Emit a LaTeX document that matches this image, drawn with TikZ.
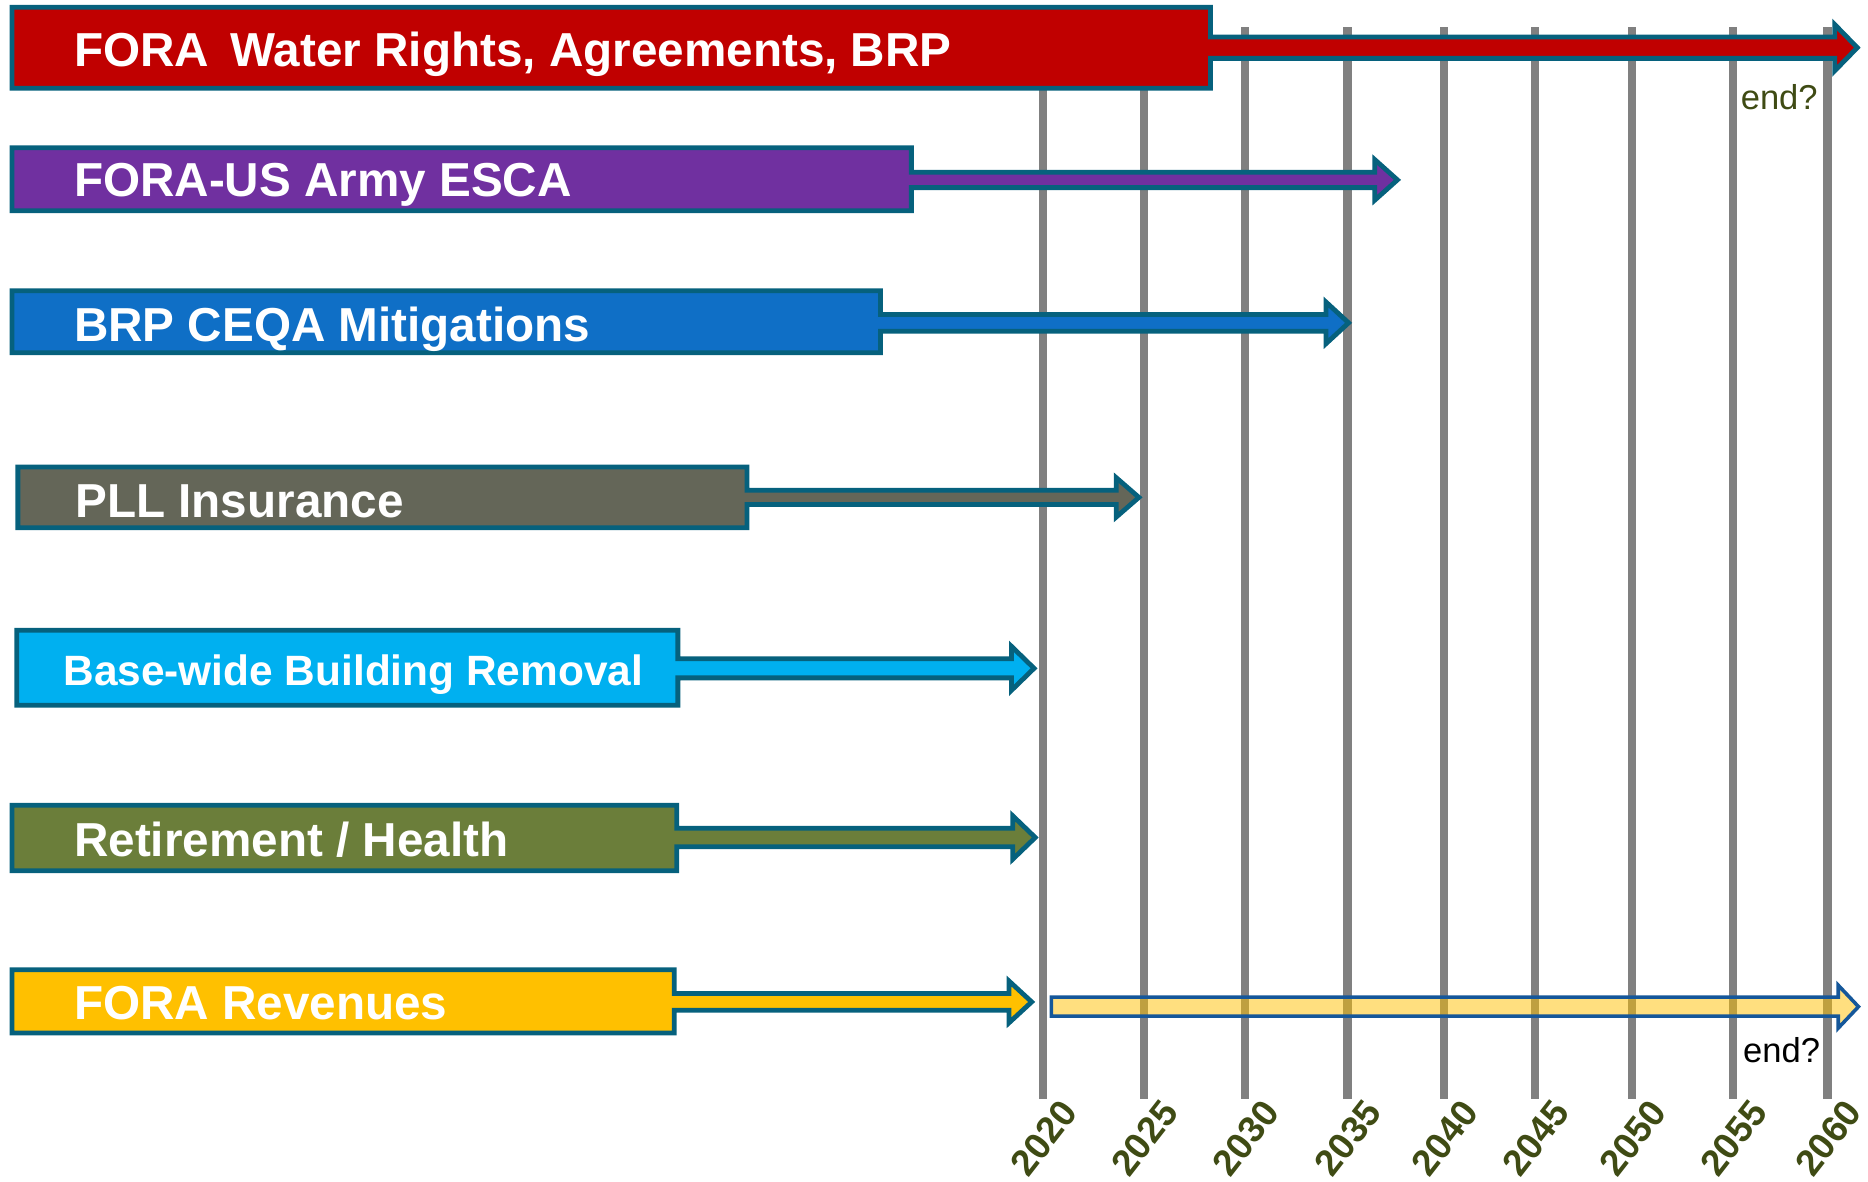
\documentclass[tikz,border=0pt]{standalone}
\usepackage{fontspec}
\setmainfont{Liberation Sans}
\definecolor{edgeC}{HTML}{06617D}
\definecolor{gridC}{HTML}{808080}
\definecolor{yearC}{HTML}{3F4B14}
\definecolor{redC}{HTML}{C00000}
\definecolor{purpleC}{HTML}{7030A0}
\definecolor{blueC}{HTML}{0F6FC6}
\definecolor{grayC}{HTML}{646658}
\definecolor{cyanC}{HTML}{00B0F0}
\definecolor{oliveC}{HTML}{6B7E3A}
\definecolor{yellowC}{HTML}{FFC000}
\definecolor{futureEdge}{HTML}{15579A}
\tikzset{
  gridline/.style={draw=gridC, line width=7pt},
  barshape/.style={draw=edgeC, line width=4pt, line join=miter, miter limit=10},
  bartext/.style={text=white, inner sep=0pt, font=\bfseries\fontsize{40}{48}\selectfont},
  yearlabel/.style={text=yearC, inner sep=0pt, rotate=52, anchor=east, font=\bfseries\fontsize{31}{37}\selectfont},
  endlabel/.style={inner sep=0pt, anchor=base west, font=\fontsize{29}{35}\selectfont},
}
% #1 name, #2 colour, #3 x0, #4 x1, #5 y0, #6 y1, #7 cy, #8 shaft half, #9 tip
\newcommand\timebar[9]{%
  \filldraw[barshape, fill=#2] (#3,#5) -- (#4,#5) -- (#4,#7-#8) -- (#9-19,#7-#8)
    -- (#9-19,#7-#8-10.5) -- (#9,#7) coordinate (#1tip) -- (#9-19,#7+#8+10.5)
    -- (#9-19,#7+#8) -- (#4,#7+#8) -- (#4,#6) -- (#3,#6) -- cycle;}
\begin{document}
\begin{tikzpicture}[x=1pt,y=-1pt]
\useasboundingbox (0,0) rectangle (1568,992);
% year grid
\foreach \xx/\yr in {875.5/2020,960/2025,1045/2030,1131/2035,1212/2040,1288.5/2045,1370/2050,1454.5/2055,1534/2060}{
  \draw[gridline] (\xx,23) coordinate (top\yr) -- (\xx,922.5) coordinate (bot\yr);
  \node[yearlabel] (y\yr) at (\xx+22,928) {\yr};
}
% bars
\timebar{water}{redC}{10}{1016}{6}{74}{40}{9}{1559}
\timebar{esca}{purpleC}{10}{765}{124}{177}{151}{6.5}{1173}
\timebar{ceqa}{blueC}{10}{739}{244}{296}{271}{7}{1132}
\timebar{pll}{grayC}{15}{627}{392}{443}{417.5}{6}{956}
\timebar{bldg}{cyanC}{14}{569}{529}{592}{561}{8}{868}
\timebar{ret}{oliveC}{10}{568}{676}{731}{703}{7.8}{869}
\timebar{rev}{yellowC}{10}{566}{814}{867}{841}{7}{866}
% future revenues arrow
\filldraw[draw=futureEdge, fill=yellowC, fill opacity=0.5, line width=3pt, line join=miter, miter limit=10]
  (882.5,837) -- (1543,837) -- (1543,827) -- (1560,845) coordinate (revfuturetip)
  -- (1543,863) -- (1543,853) -- (882.5,853) -- cycle;
% labels
\node[bartext, anchor=base west] (lwater) at (62,56) {FORA\hspace{0.45em}Water Rights, Agreements, BRP};
\node[bartext, anchor=base west] (lesca) at (62,165) {FORA-US Army ESCA};
\node[bartext, anchor=base west] (lceqa) at (62,286.5) {BRP CEQA Mitigations};
\node[bartext, anchor=base west] (lpll) at (63,434) {PLL Insurance};
\node[bartext, anchor=base west, font=\bfseries\fontsize{35.6}{42}\selectfont] (lbldg) at (53,575) {Base-wide Building Removal};
\node[bartext, anchor=base west] (lret) at (62,719) {Retirement / Health};
\node[bartext, anchor=base west] (lrev) at (62,856) {FORA Revenues};
\node[endlabel, text=yearC] (end1) at (1461,92) {end?};
\node[endlabel, text=black] (end2) at (1463,892) {end?};
\end{tikzpicture}
\end{document}
